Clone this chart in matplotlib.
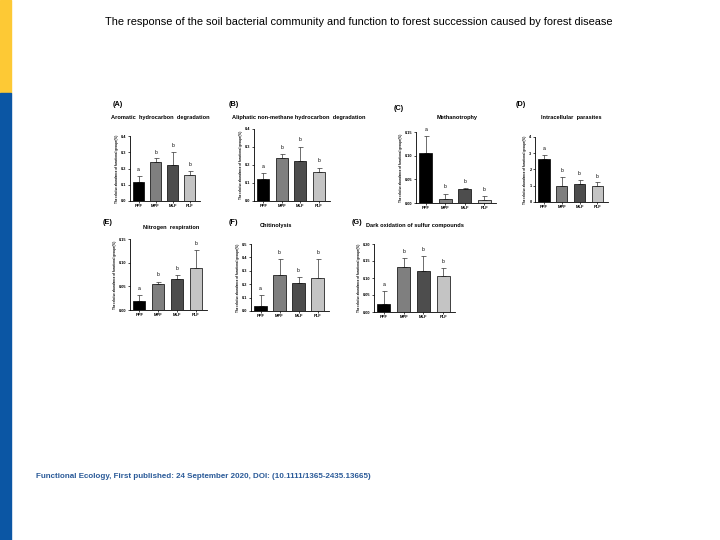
import numpy as np
import matplotlib
matplotlib.use('Agg')
import matplotlib.pyplot as plt
from matplotlib.patches import Rectangle

plt.rcParams['font.family'] = ['Liberation Sans', 'DejaVu Sans']

# data
groups = ['PPF', 'MPF', 'MLF', 'PLF']
bar_colors = ['#000000', '#7f7f7f', '#4d4d4d', '#c4c4c4']
letters = ['a', 'b', 'b', 'b']

titles = ['Aromatic  hydrocarbon  degradation',
          'Aliphatic non-methane hydrocarbon  degradation',
          'Methanotrophy',
          'Intracellular  parasites',
          'Nitrogen  respiration',
          'Chitinolysis',
          'Dark oxidation of sulfur compounds']
tags = ['(A)', '(B)', '(C)', '(D)', '(E)', '(F)', '(G)']

mean_a = [0.12, 0.237, 0.22, 0.16]
sd_a = [0.035, 0.025, 0.08, 0.025]
mean_b = [0.12, 0.237, 0.22, 0.162]
sd_b = [0.035, 0.023, 0.082, 0.023]
mean_c = [0.105, 0.008, 0.029, 0.006]
sd_c = [0.037, 0.012, 0.002, 0.009]
mean_d = [2.65, 0.97, 1.1, 1.0]
sd_d = [0.23, 0.58, 0.23, 0.2]
mean_e = [0.019, 0.054, 0.065, 0.089]
sd_e = [0.012, 0.006, 0.008, 0.038]
mean_f = [0.04, 0.27, 0.21, 0.245]
sd_f = [0.08, 0.12, 0.045, 0.145]
mean_g = [0.025, 0.133, 0.12, 0.105]
sd_g = [0.037, 0.025, 0.045, 0.023]

means = [mean_a, mean_b, mean_c, mean_d, mean_e, mean_f, mean_g]
sds = [sd_a, sd_b, sd_c, sd_d, sd_e, sd_f, sd_g]
yticks = [np.arange(0, 0.41, 0.1), np.arange(0, 0.41, 0.1), np.arange(0, 0.151, 0.05),
          np.arange(0, 4.1, 1), np.arange(0, 0.151, 0.05), np.arange(0, 0.51, 0.1),
          np.arange(0, 0.201, 0.05)]
yfmt = ['%.1f', '%.1f', '%.2f', '%d', '%.2f', '%.1f', '%.2f']

# axes boxes in pixels: left, right, top, bottom
boxes = [(130, 200, 136, 201), (254, 330, 129, 201), (416, 496, 132, 203),
         (535, 608, 137, 202), (130, 207, 239, 310), (251, 329, 244, 311),
         (374, 455, 244, 312)]
title_pos = [(160, 118), (299, 118), (457, 118), (571, 118),
             (171, 227), (276, 225), (415, 226)]
tag_pos = [(113, 105), (229, 105), (394, 108), (516, 105),
           (103, 222), (229, 222), (352, 222)]

W, H = 720, 540
fig = plt.figure(figsize=(7.2, 5.4), dpi=100)

# side stripe
fig.patches.append(Rectangle((0, 1 - 93 / H), 11 / W, 93 / H, transform=fig.transFigure,
                             color='#fdc935', zorder=0))
fig.patches.append(Rectangle((0, 0), 11 / W, 1 - 93 / H, transform=fig.transFigure,
                             color='#0b56a4', zorder=0))

fig.text(359 / W, 1 - 22 / H,
         'The response of the soil bacterial community and function to forest succession caused by forest disease',
         ha='center', va='center', fontsize=7.9)
fig.text(36 / W, 1 - 476 / H,
         'Functional Ecology, First published: 24 September 2020, DOI: (10.1111/1365-2435.13665)',
         ha='left', va='center', fontsize=5.8, fontweight='bold', color='#2a5a98')

x = np.arange(len(groups))
for i in range(7):
    l, r, t, b = boxes[i]
    ax = fig.add_axes([l / W, 1 - b / H, (r - l) / W, (b - t) / H])
    top = yticks[i][-1]
    ax.bar(x, means[i], width=0.65, color=bar_colors, edgecolor='black', linewidth=0.5, zorder=2)
    ax.errorbar(x, means[i], yerr=[np.zeros(4), sds[i]], fmt='none', ecolor='#333333',
                elinewidth=0.5, capsize=1.8, capthick=0.5, zorder=1)
    for j in range(4):
        ax.text(x[j], means[i][j] + sds[i][j] + top * 0.06, letters[j],
                ha='center', va='bottom', fontsize=3.6)
    ax.set_xlim(-0.5, 3.6)
    ax.set_ylim(0, top)
    ax.set_yticks(yticks[i])
    ax.set_yticklabels([yfmt[i] % v for v in yticks[i]], fontsize=2.8, fontweight='bold')
    ax.set_xticks(x)
    ax.set_xticklabels(groups, fontsize=3, fontweight='bold')
    ax.tick_params(length=1.5, width=0.5, pad=1)
    for s in ['top', 'right']:
        ax.spines[s].set_visible(False)
    for s in ['left', 'bottom']:
        ax.spines[s].set_linewidth(0.6)
    ax.set_ylabel('The relative abundance of functional groups(%)', fontsize=2.2,
                  fontweight='bold', labelpad=1.5)
    ax.patch.set_alpha(0)
    fig.text(title_pos[i][0] / W, 1 - title_pos[i][1] / H, titles[i],
             ha='center', va='center', fontsize=4.1, fontweight='bold')
    fig.text(tag_pos[i][0] / W, 1 - tag_pos[i][1] / H, tags[i],
             ha='left', va='center', fontsize=5.2, fontweight='bold')

fig.savefig('out.png', dpi=100)
